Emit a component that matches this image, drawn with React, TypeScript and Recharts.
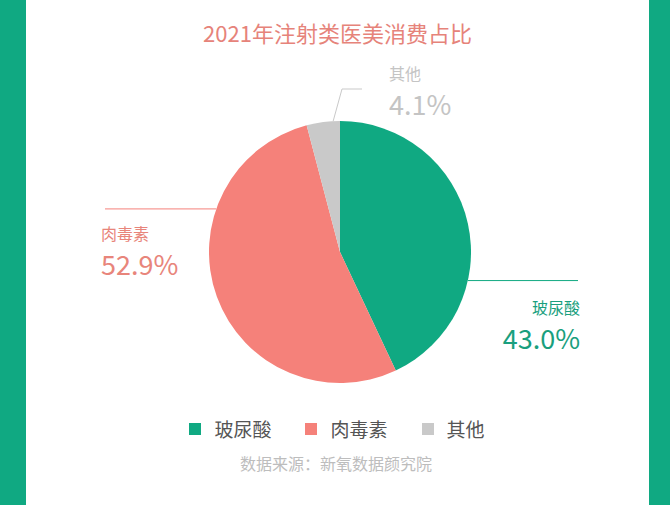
import { PieChart, Pie, Cell, Legend } from "recharts"

const CATEGORIES = ["玻尿酸", "肉毒素", "其他"]
const SHARES = [43.0, 52.9, 4.1]
const COLORS = ["#10a982", "#f5817a", "#c9c9c9"]
const LABEL_COLORS = ["#1a9f7e", "#e8857b", "#c4c4c4"]

const TITLE = "2021年注射类医美消费占比"
const SOURCE = "数据来源：新氧数据颜究院"

const FONT = '"Noto Sans CJK SC", "Noto Sans", sans-serif'

const chartData = CATEGORIES.map((name, i) => ({ name, value: SHARES[i] }))

// where each leader line leaves the pie and how its label sits
const LABEL_LAYOUT: Record<string, any> = {
  玻尿酸: { angle: -12.6, elbow: null, endX: 238, anchor: "end", textX: 240, nameY: 55, valueY: 85 },
  肉毒素: { angle: 160.8, elbow: null, endX: -235, anchor: "start", textX: -239, nameY: -19, valueY: 11 },
  其他: { angle: 93, elbow: [2, -163], endX: 22, anchor: "start", textX: 49, nameY: -179, valueY: -149 },
}

const RADIAN = Math.PI / 180

function renderLabel(props: any) {
  const { cx, cy, outerRadius, name, value, index } = props
  const cfg = LABEL_LAYOUT[name]
  const ang = cfg.angle
  const sx = cx + outerRadius * Math.cos(-ang * RADIAN)
  const sy = cy + outerRadius * Math.sin(-ang * RADIAN)
  const pts: number[][] = [[sx, sy]]
  let lineY = sy
  if (cfg.elbow) {
    pts.push([cx + cfg.elbow[0], cy + cfg.elbow[1]])
    lineY = cy + cfg.elbow[1]
  }
  pts.push([cx + cfg.endX, lineY])
  const color = LABEL_COLORS[index]
  return (
    <g key={`lbl-${name}`}>
      <polyline
        points={pts.map((p) => p.join(",")).join(" ")}
        fill="none"
        stroke={COLORS[index]}
        strokeWidth={1}
      />
      <text
        x={cx + cfg.textX}
        y={cy + cfg.nameY}
        textAnchor={cfg.anchor}
        dominantBaseline="central"
        fill={color}
        fontSize={16}
        fontFamily={FONT}
      >
        {name}
      </text>
      <text
        x={cx + cfg.textX}
        y={cy + cfg.valueY}
        textAnchor={cfg.anchor}
        dominantBaseline="central"
        fill={color}
        fontSize={27}
        fontFamily={FONT}
      >
        {value.toFixed(1)}%
      </text>
    </g>
  )
}

function renderLegend() {
  return (
    <div style={{ display: "flex", justifyContent: "center", alignItems: "center", paddingLeft: 4 }}>
      {CATEGORIES.map((name, i) => (
        <div
          key={`leg-${i}`}
          style={{ display: "flex", alignItems: "center", marginRight: i < CATEGORIES.length - 1 ? 34 : 0 }}
        >
          <span style={{ width: 12, height: 12, background: COLORS[i], marginRight: 13, display: "inline-block" }} />
          <span style={{ fontSize: 19, color: "#555", fontFamily: FONT, lineHeight: "24px" }}>{name}</span>
        </div>
      ))}
    </div>
  )
}

export default function App() {
  return (
    <div style={{ position: "fixed", left: 0, top: 0, width: 670, height: 505, background: "#fff", overflow: "hidden" }}>
      <div style={{ position: "absolute", left: 0, top: 0, width: 26, height: 505, background: "#10a982" }} />
      <div style={{ position: "absolute", right: 0, top: 0, width: 21, height: 505, background: "#10a982" }} />
      <div
        style={{
          position: "absolute",
          left: 0,
          top: 18,
          width: 675,
          textAlign: "center",
          fontSize: 22,
          lineHeight: "28px",
          color: "#e6837a",
          fontFamily: FONT,
        }}
      >
        {TITLE}
      </div>
      <div style={{ position: "absolute", left: 0, top: 0 }}>
        <PieChart width={670} height={505} margin={{ top: 0, right: 0, bottom: 0, left: 0 }}>
          <Pie
            data={chartData}
            dataKey="value"
            nameKey="name"
            cx={340}
            cy={252}
            outerRadius={131}
            startAngle={90}
            endAngle={-270}
            stroke="none"
            label={renderLabel}
            labelLine={false}
            isAnimationActive={false}
          >
            {chartData.map((_, i) => (
              <Cell key={`cell-${i}`} fill={COLORS[i]} />
            ))}
          </Pie>
          <Legend content={renderLegend} wrapperStyle={{ top: 417, left: 0, width: 670 }} />
        </PieChart>
      </div>
      <div
        style={{
          position: "absolute",
          left: 240,
          top: 452,
          fontSize: 16,
          lineHeight: "22px",
          color: "#bdbdbd",
          fontFamily: FONT,
          whiteSpace: "nowrap",
        }}
      >
        {SOURCE}
      </div>
    </div>
  )
}
